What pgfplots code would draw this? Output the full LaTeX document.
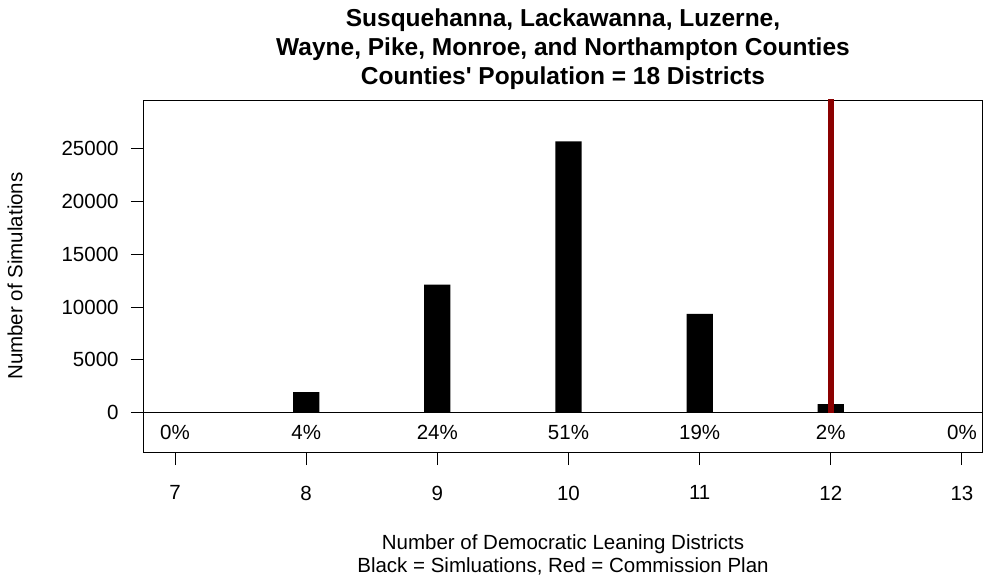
\documentclass[border=0pt]{standalone}
\usepackage{fontspec}
\setmainfont{Liberation Sans}
\usepackage{pgfplots}
\pgfplotsset{compat=1.18}
\definecolor{plotred}{HTML}{8B0000}
\newcommand{\tfont}{\fontsize{20.5}{24}\selectfont}
\begin{document}
\begin{tikzpicture}[x=1pt,y=1pt]
\useasboundingbox (0,0) rectangle (983,579);
\begin{axis}[
  at={(143.3pt,126.3pt)}, anchor=south west,
  width=838.7pt, height=352.7pt, scale only axis,
  xmin=6.758, xmax=13.153, ymin=-3774, ymax=29587,
  axis line style={line width=0.9pt},
  xtick={7,8,9,10,11,12,13}, ytick={0,5000,10000,15000,20000,25000},
  tick align=outside, major tick length=12.5pt,
  tick style={black, line width=0.9pt},
  xtick pos=bottom, ytick pos=left,
  scaled y ticks=false,
  /pgf/number format/assume math mode=true,
  /pgf/number format/1000 sep={},
  tick label style={font=\tfont},
  xticklabel style={yshift=-17pt},
  yticklabel style={xshift=-8.7pt},
  clip=true,
]
\addplot[black, line width=0.9pt] coordinates {(6.5,0) (13.5,0)};
\addplot[ybar, bar shift=0pt, bar width=0.2, fill=black, draw=none] coordinates {
(7,40) (8,1967) (9,12117) (10,25681) (11,9346) (12,832) (13,0)};
\addplot[plotred, line width=6pt] coordinates {(12,0) (12,40000)};
\node[font=\tfont] at (axis cs:7,-1880) {0\%};
\node[font=\tfont] at (axis cs:8,-1880) {4\%};
\node[font=\tfont] at (axis cs:9,-1880) {24\%};
\node[font=\tfont] at (axis cs:10,-1880) {51\%};
\node[font=\tfont] at (axis cs:11,-1880) {19\%};
\node[font=\tfont] at (axis cs:12,-1880) {2\%};
\node[font=\tfont] at (axis cs:13,-1880) {0\%};
\end{axis}
\begin{scope}[every node/.style={anchor=base, font=\bfseries\fontsize{24.5}{29}\selectfont}]
\node at (563,552) {Susquehanna, Lackawanna, Luzerne,};
\node at (563,523) {Wayne, Pike, Monroe, and Northampton Counties};
\node at (563,494) {Counties\textquotesingle\ Population = 18 Districts};
\end{scope}
\node[anchor=base, font=\tfont] at (563,30) {Number of Democratic Leaning Districts};
\node[anchor=base, font=\tfont] at (563,7) {Black = Simluations, Red = Commission Plan};
\node[rotate=90, font=\tfont] at (15,303) {Number of Simulations};
\end{tikzpicture}
\end{document}
